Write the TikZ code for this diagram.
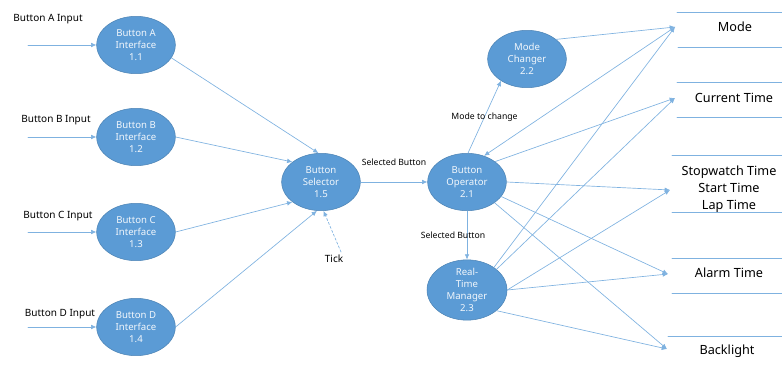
\documentclass[tikz,border=0pt]{standalone}
\usepackage{fontspec}
\setmainfont{Noto Sans}
\usetikzlibrary{shapes.geometric,arrows.meta}
\definecolor{procfill}{HTML}{5B9BD5}
\definecolor{flowline}{HTML}{7FB2E0}
\begin{document}
\begin{tikzpicture}[x=0.75pt,y=-0.75pt,>={Latex[length=4pt,width=3.5pt]},line cap=round,
  proc/.style={ellipse,fill=procfill,draw=procfill!85!black,line width=0.4pt,minimum width=59pt,minimum height=43pt,inner sep=0pt,align=center,text=white!92!procfill,font=\fontsize{7.2}{8.8}\selectfont},
  flow/.style={->,draw=flowline,line width=0.5pt},
  lbl/.style={font=\fontsize{7.5}{9}\selectfont,inner sep=0pt},
  smalllbl/.style={font=\fontsize{6.5}{8}\selectfont,inner sep=0pt},
  store/.style={font=\fontsize{9.5}{12.8}\selectfont,align=center,inner sep=0pt},
  storeline/.style={draw=flowline,line width=0.6pt}]
\useasboundingbox (0,0) rectangle (782,367);
% processes
\node[proc] (ia) at (136,45) {Button A\\Interface\\1.1};
\node[proc] (ib) at (136,137) {Button B\\Interface\\1.2};
\node[proc] (ic) at (136,232) {Button C\\Interface\\1.3};
\node[proc] (id) at (136,327) {Button D\\Interface\\1.4};
\node[proc] (sel) at (321,182) {Button\\Selector\\1.5};
\node[proc] (op) at (467,182) {Button\\Operator\\2.1};
\node[proc] (mc) at (527,59) {Mode\\Changer\\2.2};
\node[proc,minimum width=60pt] (rt) at (467,290) {Real-\\Time\\Manager\\2.3};
% inputs
\node[lbl] (la) at (48,19) {Button A Input};
\node[lbl] (lb) at (56,120) {Button B Input};
\node[lbl] (lc) at (58,216) {Button C Input};
\node[lbl] (ld) at (60,314) {Button D Input};
\coordinate (ina) at (28,45);
\coordinate (inb) at (28,137);
\coordinate (inc) at (28,232);
\coordinate (ind) at (28,327);
\coordinate (tick) at (341,252);
\node[lbl] (ltick) at (334,259) {Tick};
% data stores
\node[store] (smode) at (735,27) {Mode};
\node[store] (stime) at (734,98) {Current Time};
\node[store] (ssw) at (729,189) {Stopwatch Time\\Start Time\\Lap Time};
\node[store] (salarm) at (729,273) {Alarm Time};
\node[store] (slight) at (727,351) {Backlight};
\draw[storeline] (677,12)--(782,12) (678,47)--(782,47);
\draw[storeline] (677,82)--(782,82) (677,117)--(782,117);
\draw[storeline] (672,155)--(782,155) (672,212)--(782,212);
\draw[storeline] (672,258)--(782,258) (672,293)--(782,293);
\draw[storeline] (668,336)--(782,336);
\coordinate (tmode) at (675,27);
\coordinate (ttime) at (675,98);
\coordinate (tsw) at (670,190);
\coordinate (talarm) at (668,274);
\coordinate (tlight) at (667,349);
% flows
\draw[flow] (ina) -- (ia.west);
\draw[flow] (inb) -- (ib.west);
\draw[flow] (inc) -- (ic.west);
\draw[flow] (ind) -- (id.west);
\draw[flow] (ia.-20) -- (sel.95);
\draw[flow] (ib.east) -- (sel.145);
\draw[flow] (ic.east) -- (sel.215);
\draw[flow] (id.east) -- (sel.262);
\draw[flow,dash pattern=on 1.8pt off 1.4pt] (tick) -- (sel.275);
\draw[flow] (sel) -- node[smalllbl,above=12pt] {Selected Button} (op);
\draw[flow] (op) -- node[smalllbl,xshift=-10.5pt] {Selected Button} (rt);
\draw[flow] (op.88) -- node[smalllbl] {Mode to change} (mc.220);
\draw[flow] (mc.34) -- (tmode);
\draw[flow] (tmode) -- (op.57);
\draw[flow] (op.36) -- (ttime);
\draw[flow] (op.east) -- (tsw);
\draw[flow] (op.-23) -- (talarm);
\draw[flow] (op.-37) -- (tlight);
\draw[flow] (rt.40) -- (tmode);
\draw[flow] (rt.35) -- (ttime);
\draw[flow] (rt.east) -- (tsw);
\draw[flow] (rt.east) -- (talarm);
\draw[flow] (rt.-35) -- (tlight);
\end{tikzpicture}
\end{document}
